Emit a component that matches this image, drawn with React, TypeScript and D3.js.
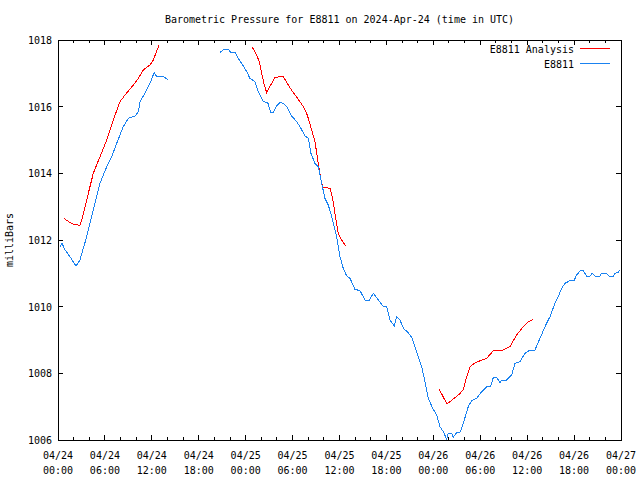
import * as d3 from 'd3';

// time axis: hours since 2024-04-24 00:00 UTC
const START = Date.UTC(2024, 3, 24, 0, 0);
const END = Date.UTC(2024, 3, 27, 0, 0);

const yTicks = [1006, 1008, 1010, 1012, 1014, 1016, 1018];

// E8811 observations [hour, mbar]
const obsSeg1 = [
    [0.26, 1011.8], [0.51, 1011.9], [0.9, 1011.7], [1.53, 1011.5], [2.3, 1011.22], [2.81, 1011.4],
    [3.67, 1012.1], [4.51, 1012.9], [5.37, 1013.7], [6.23, 1014.2], [6.87, 1014.5], [7.5, 1014.9],
    [8.35, 1015.4], [9.0, 1015.65], [9.85, 1015.72], [10.27, 1015.85], [10.49, 1016.15], [11.34, 1016.5],
    [11.76, 1016.7], [12.31, 1017.03], [12.62, 1016.9], [13.47, 1016.9], [14.03, 1016.82],
];

const obsSeg2 = [
    [20.72, 1017.63], [21.23, 1017.72], [21.78, 1017.72], [22.08, 1017.63], [22.63, 1017.63], [23.06, 1017.45],
    [23.7, 1017.22], [24.13, 1017.05], [24.55, 1016.85], [25.19, 1016.75], [25.61, 1016.45], [26.25, 1016.15],
    [26.82, 1016.12], [27.24, 1015.82], [27.54, 1015.82], [27.88, 1016.0], [28.39, 1016.12], [28.81, 1016.1],
    [29.32, 1015.98], [29.88, 1015.72], [30.52, 1015.55], [30.95, 1015.4], [31.59, 1015.12], [32.01, 1015.05],
    [32.35, 1014.6], [32.86, 1014.3], [33.29, 1014.2], [33.72, 1013.7], [34.14, 1013.25], [34.57, 1013.05],
    [35.0, 1012.7], [35.64, 1012.1], [36.06, 1011.5], [36.48, 1011.15], [36.92, 1010.92], [37.34, 1010.85],
    [37.98, 1010.52], [38.62, 1010.48], [39.26, 1010.2], [39.81, 1010.2], [40.32, 1010.4], [40.96, 1010.2],
    [41.6, 1010.0], [42.03, 1010.0], [42.46, 1009.6], [43.01, 1009.42], [43.31, 1009.7], [43.73, 1009.6],
    [44.25, 1009.32], [44.67, 1009.25], [45.23, 1009.08], [45.65, 1008.8], [46.07, 1008.5], [46.51, 1008.2],
    [46.93, 1007.75], [47.35, 1007.25], [47.99, 1006.92], [48.43, 1006.75], [48.85, 1006.4], [49.27, 1006.25],
    [49.7, 1006.03], [49.91, 1006.2], [50.34, 1006.2], [50.55, 1006.08], [50.98, 1006.22], [51.4, 1006.22],
    [51.83, 1006.5], [52.47, 1007.0], [52.9, 1007.18], [53.54, 1007.25], [54.18, 1007.45], [54.82, 1007.6],
    [55.33, 1007.6], [55.66, 1007.87], [56.1, 1007.88], [56.52, 1007.72], [56.74, 1007.8], [57.38, 1007.8],
    [58.02, 1007.95], [58.44, 1008.3], [59.08, 1008.35], [59.72, 1008.6], [60.36, 1008.7], [61.0, 1008.7],
    [61.64, 1009.05], [62.28, 1009.4], [62.92, 1009.7], [63.55, 1010.1], [63.98, 1010.3], [64.41, 1010.55],
    [64.83, 1010.7], [65.47, 1010.78], [65.98, 1010.78], [66.33, 1010.95], [66.88, 1011.1], [67.18, 1011.08],
    [67.6, 1010.92], [68.03, 1010.92], [68.33, 1011.0], [68.67, 1010.92], [69.31, 1010.92], [69.52, 1011.0],
    [70.16, 1011.0], [70.46, 1010.92], [71.01, 1010.92], [71.23, 1011.0], [71.65, 1011.03], [71.87, 1011.1],
];

// E8811 Analysis [hour, mbar]
const anaSeg1 = [
    [0.77, 1012.65], [1.53, 1012.52], [1.96, 1012.47], [2.81, 1012.44], [3.03, 1012.6], [3.67, 1013.2],
    [4.51, 1014.0], [5.37, 1014.5], [6.23, 1015.0], [7.07, 1015.6], [7.93, 1016.15], [8.57, 1016.35],
    [9.63, 1016.65], [10.27, 1016.85], [10.91, 1017.1], [11.76, 1017.25], [12.19, 1017.4], [12.92, 1017.85],
];

const anaSeg2 = [
    [24.85, 1017.78], [25.4, 1017.55], [25.74, 1017.35], [26.05, 1017.0], [26.38, 1016.65], [26.69, 1016.42],
    [27.2, 1016.65], [27.75, 1016.87], [28.3, 1016.9], [28.81, 1016.9], [29.45, 1016.65], [30.09, 1016.42],
    [30.73, 1016.22], [31.37, 1016.0], [31.88, 1015.75], [32.44, 1015.3], [32.86, 1014.95], [33.16, 1014.5],
    [33.41, 1014.1], [33.72, 1013.7], [33.93, 1013.58], [34.78, 1013.55], [35.08, 1013.3], [35.42, 1012.8],
    [35.84, 1012.2], [36.28, 1012.0], [36.79, 1011.82],
];

const anaSeg3 = [
    [48.76, 1007.52], [49.74, 1007.08], [50.55, 1007.23], [51.36, 1007.38], [51.87, 1007.53], [52.26, 1007.9],
    [52.73, 1008.21], [53.32, 1008.31], [54.18, 1008.4], [54.82, 1008.45], [55.75, 1008.7], [56.87, 1008.7],
    [57.8, 1008.8], [58.65, 1009.15], [59.5, 1009.4], [60.14, 1009.55], [60.78, 1009.62],
];

const RED = '#ff0000';
const BLUE = '#1a82f0';
const FONT = "'DejaVu Sans Mono', monospace";

const W = 640;
const H = 480;
const left = 58;
const right = 621;
const top = 40;
const bottom = 440;

export default function App() {
    const x = d3.scaleUtc().domain([new Date(START), new Date(END)]).range([left, right]);
    const y = d3.scaleLinear().domain([1006, 1018]).range([bottom, top]);

    const toDate = (h: number) => new Date(START + h * 3600 * 1000);
    const line = d3.line<number[]>()
        .x((d) => x(toDate(d[0])))
        .y((d) => y(d[1]));

    const majorTicks = x.ticks(d3.utcHour.every(6));
    const minorTicks = x.ticks(d3.utcHour.every(2)).filter((t) => t.getUTCHours() % 6 !== 0);
    const fmtDate = d3.utcFormat('%m/%d');
    const fmtTime = d3.utcFormat('%H:%M');

    return (
        <svg width={W} height={H} style={{ position: 'absolute', left: 0, top: 0, background: '#fff' }}>
            <g fontFamily={FONT} fontSize={10} fill="#000">
                <text x={(left + right) / 2} y={23} textAnchor="middle">
                    Barometric Pressure for E8811 on 2024-Apr-24 (time in UTC)
                </text>
                <text transform={`translate(13, ${(top + bottom) / 2}) rotate(-90)`} textAnchor="middle">
                    milliBars
                </text>
                {yTicks.map((t) => (
                    <text key={t} x={52} y={y(t) + 4} textAnchor="end">{t}</text>
                ))}
                {majorTicks.map((t) => (
                    <g key={+t}>
                        <text x={x(t)} y={459} textAnchor="middle">{fmtDate(t)}</text>
                        <text x={x(t)} y={474} textAnchor="middle">{fmtTime(t)}</text>
                    </g>
                ))}
            </g>

            <g stroke="#000" strokeWidth={1} shapeRendering="crispEdges">
                {yTicks.map((t) => (
                    <g key={t}>
                        <line x1={left} x2={left + 5} y1={y(t)} y2={y(t)} />
                        <line x1={right - 5} x2={right} y1={y(t)} y2={y(t)} />
                    </g>
                ))}
                {majorTicks.map((t) => (
                    <g key={+t}>
                        <line x1={x(t)} x2={x(t)} y1={bottom} y2={bottom - 5} />
                        <line x1={x(t)} x2={x(t)} y1={top} y2={top + 5} />
                    </g>
                ))}
                {minorTicks.map((t) => (
                    <g key={+t}>
                        <line x1={x(t)} x2={x(t)} y1={bottom} y2={bottom - 3} />
                        <line x1={x(t)} x2={x(t)} y1={top} y2={top + 3} />
                    </g>
                ))}
                <rect x={left} y={top} width={right - left} height={bottom - top} fill="none" />
            </g>

            <g fill="none" strokeWidth={1} shapeRendering="crispEdges">
                {[anaSeg1, anaSeg2, anaSeg3].map((seg, i) => (
                    <path key={`a${i}`} d={line(seg) ?? ''} stroke={RED} />
                ))}
                {[obsSeg1, obsSeg2].map((seg, i) => (
                    <path key={`o${i}`} d={line(seg) ?? ''} stroke={BLUE} />
                ))}
            </g>

            {/* legend */}
            <g fontFamily={FONT} fontSize={10} fill="#000">
                <text x={574} y={53} textAnchor="end">E8811 Analysis</text>
                <text x={574} y={68} textAnchor="end">E8811</text>
            </g>
            <g strokeWidth={1} shapeRendering="crispEdges">
                <line x1={580} x2={610} y1={48} y2={48} stroke={RED} />
                <line x1={580} x2={610} y1={63} y2={63} stroke={BLUE} />
            </g>
        </svg>
    );
}
